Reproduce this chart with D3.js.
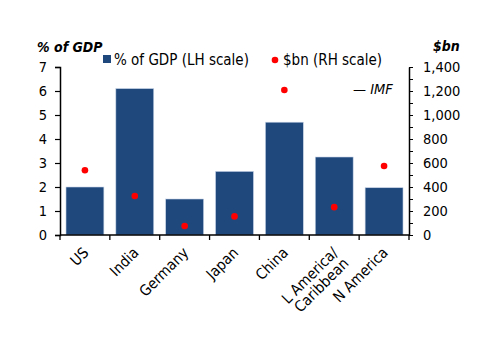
<!DOCTYPE html>
<html>
<head>
<meta charset="utf-8">
<script src="https://cdn.jsdelivr.net/npm/d3@7"></script>
<style>
  body { margin: 0; background: #fff; }
  svg text { font-family: "DejaVu Sans Condensed", "DejaVu Sans", sans-serif; font-stretch: condensed; fill: #000; }
</style>
</head>
<body>
<svg id="chart" width="500" height="353"></svg>
<script>
let width = 500,
  height = 353

let categories = ["US", "India", "Germany", "Japan", "China", "L America/\nCaribbean", "N America"]
let pct_gdp = [2.0, 6.1, 1.5, 2.65, 4.7, 3.25, 1.97]
let usd_bn = [540, 325, 75, 155, 1208, 232, 575]
let left_ticks = [0, 1, 2, 3, 4, 5, 6, 7]
let right_ticks = [0, 200, 400, 600, 800, 1000, 1200, 1400]

let margin = { left: 60, right: 91, top: 67, bottom: 118 }

let svg = d3.select("#chart")

let scales = {
  x: d3.scaleBand()
    .domain(categories)
    .range([margin.left, width - margin.right])
    .paddingInner(0.24)
    .paddingOuter(0.12),
  yl: d3.scaleLinear()
    .domain([0, 7])
    .range([height - margin.bottom, margin.top]),
  yr: d3.scaleLinear()
    .domain([0, 1400])
    .range([height - margin.bottom, margin.top])
}

// bars
svg.append("g")
  .selectAll("rect")
  .data(pct_gdp).enter()
  .append("rect")
  .attr("x", (d, i) => scales.x(categories[i]))
  .attr("y", d => scales.yl(d))
  .attr("width", scales.x.bandwidth())
  .attr("height", d => scales.yl(0) - scales.yl(d))
  .attr("fill", "#1f497d")
  .attr("stroke", "#c6d3e6")
  .attr("stroke-width", 0.6)

// dots
svg.append("g")
  .selectAll("circle")
  .data(usd_bn).enter()
  .append("circle")
  .attr("cx", (d, i) => scales.x(categories[i]) + scales.x.bandwidth() / 2)
  .attr("cy", d => scales.yr(d))
  .attr("r", 3.3)
  .attr("fill", "#ff0000")

// left axis
let yl_axis = svg.append("g")
  .attr("transform", `translate(${margin.left},0)`)
  .call(d3.axisLeft(scales.yl).tickValues(left_ticks).tickSize(5).tickPadding(8)
    .tickFormat(d3.format("d")))
yl_axis.select(".domain").attr("stroke-width", 1.5)
yl_axis.selectAll(".tick line").attr("stroke-width", 1.2)
yl_axis.selectAll("text").style("font-size", "14.5px")

// right axis, minor ticks every 100
let minor = d3.range(0, 1401, 100)
svg.append("g")
  .attr("transform", `translate(${width - margin.right},0)`)
  .call(d3.axisRight(scales.yr).tickValues(minor).tickSize(4).tickFormat(""))
  .select(".domain").remove()
let yr_axis = svg.append("g")
  .attr("transform", `translate(${width - margin.right},0)`)
  .call(d3.axisRight(scales.yr).tickValues(right_ticks).tickSize(0).tickPadding(14)
    .tickFormat(d3.format(",")))
yr_axis.select(".domain").attr("stroke-width", 1.5)
yr_axis.selectAll("text").style("font-size", "14.5px")

// x axis, ticks at category boundaries
let x_axis = svg.append("g")
  .attr("transform", `translate(0,${height - margin.bottom})`)
x_axis.append("line")
  .attr("x1", margin.left).attr("x2", width - margin.right)
  .attr("stroke", "#000").attr("stroke-width", 1.5)
let step = scales.x.step()
let bounds = categories.map((c, i) => scales.x(c) - step * 0.12).concat([width - margin.right])
x_axis.selectAll(".xt")
  .data(bounds).enter()
  .append("line")
  .attr("x1", d => d).attr("x2", d => d)
  .attr("y1", 0).attr("y2", 5)
  .attr("stroke", "#000").attr("stroke-width", 1.3)

let xl = x_axis.selectAll(".xl")
  .data(categories).enter()
  .append("text")
  .attr("transform", c => `translate(${scales.x(c) + scales.x.bandwidth() / 2 + 1},${15}) rotate(-45)`)
  .attr("text-anchor", "end")
  .style("font-size", "15px")
xl.selectAll("tspan")
  .data(c => c.split("\n").map((t, i) => ({ t: t, dy: i == 0 ? 0.35 : 1.0 })))
  .enter()
  .append("tspan")
  .attr("x", 0)
  .attr("dy", d => d.dy + "em")
  .text(d => d.t)

// axis titles
svg.append("text")
  .attr("x", 37).attr("y", 52)
  .style("font-size", "14px").style("font-weight", "bold").style("font-style", "italic")
  .text("% of GDP")
svg.append("text")
  .attr("x", 433).attr("y", 51)
  .style("font-size", "14px").style("font-weight", "bold").style("font-style", "italic")
  .text("$bn")

// legend
let legend = svg.append("g")
legend.append("rect")
  .attr("x", 103).attr("y", 55).attr("width", 8).attr("height", 8)
  .attr("fill", "#1f497d")
legend.append("text")
  .attr("x", 114).attr("y", 65)
  .style("font-size", "15px")
  .text("% of GDP (LH scale)")
legend.append("circle")
  .attr("cx", 275).attr("cy", 60).attr("r", 3.3)
  .attr("fill", "#ff0000")
legend.append("text")
  .attr("x", 283).attr("y", 65)
  .style("font-size", "15px")
  .text("$bn (RH scale)")
legend.append("text")
  .attr("x", 353).attr("y", 94)
  .style("font-size", "14.5px").style("font-style", "italic")
  .text("\u2014 IMF")
</script>
</body>
</html>
